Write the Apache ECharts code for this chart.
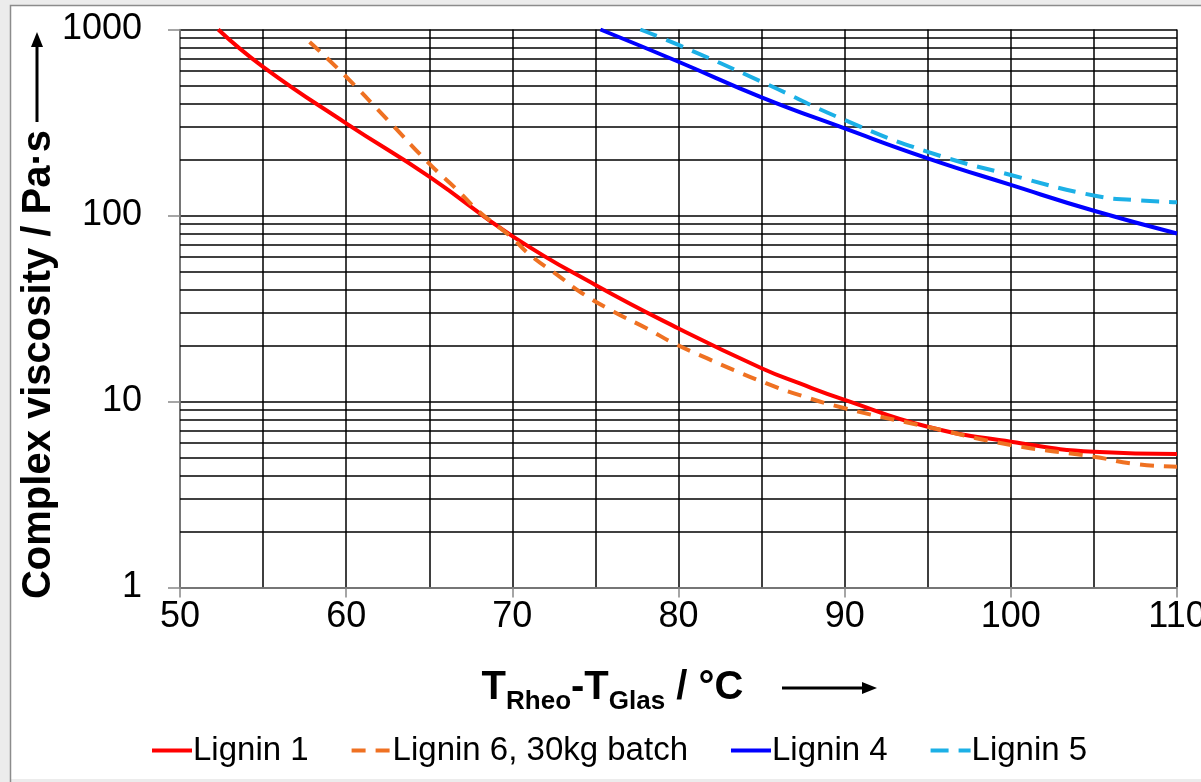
<!DOCTYPE html>
<html><head><meta charset="utf-8">
<script src="https://cdn.jsdelivr.net/npm/echarts@6/dist/echarts.min.js"></script>
<style>html,body{margin:0;padding:0;background:#fff}#c{width:1201px;height:782px}</style>
</head><body><div id="c"></div>
<script>
// ---- data ----
const seriesNames = ['Lignin 1', 'Lignin 6, 30kg batch', 'Lignin 4', 'Lignin 5'];
const lignin1T = [52.3, 55, 60, 65, 70, 75, 80, 85, 87.3, 90, 95, 100, 105, 110];
const lignin1V = [1000, 630, 313, 162, 77.5, 42.3, 24.7, 15.1, 12.5, 10.2, 7.32, 6.08, 5.37, 5.22];
const lignin6T = [57.8, 60, 62.5, 65, 66.7, 68, 69.9, 71.1, 72.7, 74.2, 76.1, 78.1, 79.7, 81.7, 83.3, 85.3, 86.9, 90, 95, 100, 105, 107.5, 110];
const lignin6V = [857, 557, 326, 190, 137, 105, 77, 61, 48, 38.2, 30.4, 24.7, 20.6, 17.1, 14.8, 12.5, 11.1, 9.2, 7.3, 5.84, 5.05, 4.61, 4.46];
const lignin4T = [75.3, 80, 85, 90, 95, 100, 105, 110];
const lignin4V = [1000, 671, 432, 294, 203, 146, 106, 80];
const lignin5T = [77.7, 80, 85, 90, 95, 100, 105, 107.5, 110];
const lignin5V = [1000, 826, 524, 326, 220, 165, 128, 121, 118];
const yMinorGrid = [2, 3, 4, 5, 6, 7, 8, 9, 20, 30, 40, 50, 60, 70, 80, 90, 200, 300, 400, 500, 600, 700, 800, 900];
const xMin = 50, xMax = 110, xStep = 10;
const yMin = 1, yMax = 1000;

const FONT = 'Liberation Sans, Arial, sans-serif';
const zip = (t, v) => t.map((x, i) => [x, v[i]]);

function lineSeries(name, t, v, color, dash) {
  return {
    name, type: 'line', data: zip(t, v), smooth: 0.5, symbol: 'none', showSymbol: false, z: 5,
    lineStyle: { color, width: 4, type: dash ? dash : 'solid' },
    itemStyle: { color }
  };
}

const chart = echarts.init(document.getElementById('c'), null, { renderer: 'canvas' });
chart.setOption({
  backgroundColor: '#ffffff',
  animation: false,
  grid: { left: 180, right: 24, top: 29.5, bottom: 194.5, containLabel: false, outerBoundsMode: 'none' },
  xAxis: {
    type: 'value', min: xMin, max: xMax, interval: xStep,
    axisLine: { show: true, lineStyle: { color: '#888', width: 1.5 } },
    axisTick: { show: true, length: 10, lineStyle: { color: '#888', width: 1.5 } },
    axisLabel: { fontSize: 36, color: '#000', margin: 12, fontFamily: FONT },
    splitLine: { show: true, lineStyle: { color: '#000', width: 1.5 } },
    minorTick: { show: false, splitNumber: 2 },
    minorSplitLine: { show: true, lineStyle: { color: '#000', width: 1.5 } },
    name: '{a|T}{b|Rheo}{a|-T}{b|Glas}{a| / °C}',
    nameLocation: 'middle', nameGap: 78, nameMoveOverlap: false,
    nameTextStyle: {
      padding: [0, 132, 0, 0],
      rich: {
        a: { fontSize: 40, fontWeight: 'bold', fontFamily: FONT, color: '#000', lineHeight: 44 },
        b: { fontSize: 26, fontWeight: 'bold', fontFamily: FONT, color: '#000', lineHeight: 28, padding: [28, 0, 0, 0] }
      }
    }
  },
  yAxis: {
    type: 'log', logBase: 10, min: yMin, max: yMax,
    axisLine: { show: true, lineStyle: { color: '#888', width: 1.5 } },
    axisTick: { show: true, length: 12, lineStyle: { color: '#888', width: 1.5 } },
    axisLabel: { fontSize: 36, color: '#000', margin: 38, fontFamily: FONT, formatter: v => String(v) },
    splitLine: { show: true, lineStyle: { color: '#000', width: 1.5 } },
    name: 'Complex viscosity / Pa·s',
    nameLocation: 'middle', nameRotate: 90, nameGap: 121, nameMoveOverlap: false,
    nameTextStyle: { fontSize: 40, fontWeight: 'bold', fontFamily: FONT, color: '#000', padding: [0, 112, 0, 0] }
  },
  legend: {
    left: 145, top: 729, itemWidth: 40, itemHeight: 16, itemGap: 41,
    data: seriesNames,
    itemStyle: { opacity: 0 },
    lineStyle: { width: 4 },
    textStyle: { fontSize: 33, color: '#000', fontFamily: FONT, padding: [0, 0, 0, -4] }
  },
  series: [
    {
      name: 'grid-minor', type: 'line', data: [[xMin, yMin]], symbol: 'none', silent: true, z: 1,
      lineStyle: { width: 0, opacity: 0 },
      markLine: {
        silent: true, symbol: ['none', 'none'], label: { show: false }, animation: false,
        lineStyle: { color: '#000', width: 1.5, type: 'solid' },
        data: yMinorGrid.map(v => ({ yAxis: v }))
      }
    },
    lineSeries(seriesNames[0], lignin1T, lignin1V, '#ff0000'),
    lineSeries(seriesNames[1], lignin6T, lignin6V, '#ef7122', [14, 10]),
    lineSeries(seriesNames[2], lignin4T, lignin4V, '#0000ff'),
    lineSeries(seriesNames[3], lignin5T, lignin5V, '#1cb0e6', [18, 10])
  ],
  graphic: [
    { type: 'rect', shape: { x: 0, y: 0, width: 10, height: 782 }, style: { fill: '#ececec' } },
    { type: 'rect', shape: { x: 0, y: 0, width: 1201, height: 5 }, style: { fill: '#ececec' } },
    { type: 'rect', shape: { x: 0, y: 779, width: 1201, height: 3 }, style: { fill: '#ececec' } },
    { type: 'polyline', shape: { points: [[10.5, 782], [10.5, 5.5], [1201, 5.5]] }, style: { stroke: '#8c8c8c', lineWidth: 1.5, fill: null } },
    { type: 'line', shape: { x1: 37, y1: 122, x2: 37, y2: 44 }, style: { stroke: '#000', lineWidth: 3 } },
    { type: 'polygon', shape: { points: [[37, 32], [31, 47], [43, 47]] }, style: { fill: '#000' } },
    { type: 'line', shape: { x1: 782, y1: 688, x2: 864, y2: 688 }, style: { stroke: '#000', lineWidth: 3 } },
    { type: 'polygon', shape: { points: [[877, 688], [862, 682], [862, 694]] }, style: { fill: '#000' } }
  ]
});
</script>
</body></html>
